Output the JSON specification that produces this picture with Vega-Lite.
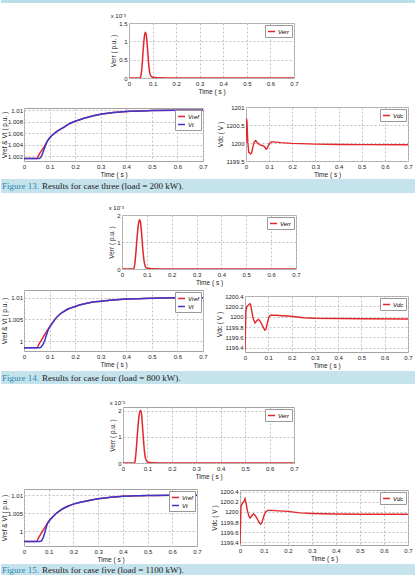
{
"$schema": "https://vega.github.io/schema/vega-lite/v6.json",
"background": "white",
"padding": 0,
"spacing": 0,
"resolve": {"scale": {"x": "independent", "y": "independent", "color": "independent"}, "legend": {"color": "independent"}},
"datasets": {
"e1": [{"t":0,"v":0,"s":"Verr"},{"t":0.046,"v":0,"s":"Verr"},{"t":0.05,"v":0.05,"s":"Verr"},{"t":0.055,"v":0.3,"s":"Verr"},{"t":0.06,"v":0.75,"s":"Verr"},{"t":0.065,"v":1.12,"s":"Verr"},{"t":0.069,"v":1.25,"s":"Verr"},{"t":0.073,"v":1.18,"s":"Verr"},{"t":0.078,"v":0.85,"s":"Verr"},{"t":0.083,"v":0.42,"s":"Verr"},{"t":0.088,"v":0.14,"s":"Verr"},{"t":0.093,"v":0.05,"s":"Verr"},{"t":0.1,"v":0.02,"s":"Verr"},{"t":0.12,"v":0.01,"s":"Verr"},{"t":0.2,"v":0,"s":"Verr"},{"t":0.7,"v":0,"s":"Verr"}],
"e2": [{"t":0,"v":0,"s":"Verr"},{"t":0.047,"v":0,"s":"Verr"},{"t":0.05,"v":0.1,"s":"Verr"},{"t":0.055,"v":0.5,"s":"Verr"},{"t":0.06,"v":1.1,"s":"Verr"},{"t":0.065,"v":1.58,"s":"Verr"},{"t":0.07,"v":1.82,"s":"Verr"},{"t":0.074,"v":1.75,"s":"Verr"},{"t":0.079,"v":1.3,"s":"Verr"},{"t":0.084,"v":0.7,"s":"Verr"},{"t":0.089,"v":0.28,"s":"Verr"},{"t":0.094,"v":0.09,"s":"Verr"},{"t":0.1,"v":0.04,"s":"Verr"},{"t":0.12,"v":0.01,"s":"Verr"},{"t":0.2,"v":0,"s":"Verr"},{"t":0.7,"v":0,"s":"Verr"}],
"e3": [{"t":0,"v":0,"s":"Verr"},{"t":0.047,"v":0,"s":"Verr"},{"t":0.05,"v":0.1,"s":"Verr"},{"t":0.055,"v":0.6,"s":"Verr"},{"t":0.06,"v":1.25,"s":"Verr"},{"t":0.065,"v":1.75,"s":"Verr"},{"t":0.07,"v":2.02,"s":"Verr"},{"t":0.074,"v":2.0,"s":"Verr"},{"t":0.079,"v":1.5,"s":"Verr"},{"t":0.084,"v":0.85,"s":"Verr"},{"t":0.089,"v":0.35,"s":"Verr"},{"t":0.094,"v":0.12,"s":"Verr"},{"t":0.1,"v":0.04,"s":"Verr"},{"t":0.12,"v":0.01,"s":"Verr"},{"t":0.2,"v":0,"s":"Verr"},{"t":0.7,"v":0,"s":"Verr"}],
"r1": [{"t":0,"v":1.00165,"s":"Vref"},{"t":0.05,"v":1.00165,"s":"Vref"},{"t":0.06,"v":1.0024,"s":"Vref"},{"t":0.07,"v":1.0031,"s":"Vref"},{"t":0.08,"v":1.0038,"s":"Vref"},{"t":0.088,"v":1.0044,"s":"Vref"},{"t":0.1,"v":1.0052,"s":"Vref"},{"t":0.125,"v":1.0062,"s":"Vref"},{"t":0.15,"v":1.0069,"s":"Vref"},{"t":0.175,"v":1.0076,"s":"Vref"},{"t":0.2,"v":1.0081,"s":"Vref"},{"t":0.25,"v":1.0088,"s":"Vref"},{"t":0.3,"v":1.0093,"s":"Vref"},{"t":0.35,"v":1.0096,"s":"Vref"},{"t":0.4,"v":1.0098,"s":"Vref"},{"t":0.5,"v":1.00995,"s":"Vref"},{"t":0.6,"v":1.01,"s":"Vref"},{"t":0.7,"v":1.01,"s":"Vref"},
{"t":0,"v":1.00165,"s":"Vt"},{"t":0.06,"v":1.00165,"s":"Vt"},{"t":0.065,"v":1.0018,"s":"Vt"},{"t":0.07,"v":1.0022,"s":"Vt"},{"t":0.075,"v":1.0028,"s":"Vt"},{"t":0.08,"v":1.0034,"s":"Vt"},{"t":0.085,"v":1.004,"s":"Vt"},{"t":0.09,"v":1.0045,"s":"Vt"},{"t":0.095,"v":1.0049,"s":"Vt"},{"t":0.1,"v":1.0052,"s":"Vt"},{"t":0.125,"v":1.0062,"s":"Vt"},{"t":0.15,"v":1.0069,"s":"Vt"},{"t":0.175,"v":1.0076,"s":"Vt"},{"t":0.2,"v":1.0081,"s":"Vt"},{"t":0.25,"v":1.0088,"s":"Vt"},{"t":0.3,"v":1.0093,"s":"Vt"},{"t":0.35,"v":1.0096,"s":"Vt"},{"t":0.4,"v":1.0098,"s":"Vt"},{"t":0.5,"v":1.00995,"s":"Vt"},{"t":0.6,"v":1.01,"s":"Vt"},{"t":0.7,"v":1.01,"s":"Vt"}],
"r2": [{"t":0,"v":0.99846,"s":"Vref"},{"t":0.05,"v":0.99846,"s":"Vref"},{"t":0.06,"v":0.99944,"s":"Vref"},{"t":0.07,"v":1.0004,"s":"Vref"},{"t":0.08,"v":1.0014,"s":"Vref"},{"t":0.09,"v":1.0024,"s":"Vref"},{"t":0.1,"v":1.0032,"s":"Vref"},{"t":0.107,"v":1.0038,"s":"Vref"},{"t":0.115,"v":1.0045,"s":"Vref"},{"t":0.125,"v":1.0053,"s":"Vref"},{"t":0.14,"v":1.0062,"s":"Vref"},{"t":0.155,"v":1.0068,"s":"Vref"},{"t":0.172,"v":1.0074,"s":"Vref"},{"t":0.2,"v":1.008,"s":"Vref"},{"t":0.237,"v":1.0086,"s":"Vref"},{"t":0.27,"v":1.009,"s":"Vref"},{"t":0.302,"v":1.0092,"s":"Vref"},{"t":0.35,"v":1.0095,"s":"Vref"},{"t":0.4,"v":1.0097,"s":"Vref"},{"t":0.45,"v":1.0098,"s":"Vref"},{"t":0.5,"v":1.0099,"s":"Vref"},{"t":0.6,"v":1.01,"s":"Vref"},{"t":0.7,"v":1.01,"s":"Vref"},
{"t":0,"v":0.99846,"s":"Vt"},{"t":0.062,"v":0.99846,"s":"Vt"},{"t":0.068,"v":0.9987,"s":"Vt"},{"t":0.073,"v":0.9991,"s":"Vt"},{"t":0.078,"v":0.9997,"s":"Vt"},{"t":0.083,"v":1.0005,"s":"Vt"},{"t":0.088,"v":1.0014,"s":"Vt"},{"t":0.093,"v":1.0023,"s":"Vt"},{"t":0.098,"v":1.003,"s":"Vt"},{"t":0.103,"v":1.0035,"s":"Vt"},{"t":0.107,"v":1.0038,"s":"Vt"},{"t":0.115,"v":1.0045,"s":"Vt"},{"t":0.125,"v":1.0053,"s":"Vt"},{"t":0.14,"v":1.0062,"s":"Vt"},{"t":0.155,"v":1.0068,"s":"Vt"},{"t":0.172,"v":1.0074,"s":"Vt"},{"t":0.2,"v":1.008,"s":"Vt"},{"t":0.237,"v":1.0086,"s":"Vt"},{"t":0.27,"v":1.009,"s":"Vt"},{"t":0.302,"v":1.0092,"s":"Vt"},{"t":0.35,"v":1.0095,"s":"Vt"},{"t":0.4,"v":1.0097,"s":"Vt"},{"t":0.45,"v":1.0098,"s":"Vt"},{"t":0.5,"v":1.0099,"s":"Vt"},{"t":0.6,"v":1.01,"s":"Vt"},{"t":0.7,"v":1.01,"s":"Vt"}],
"r3": [{"t":0,"v":0.99714,"s":"Vref"},{"t":0.05,"v":0.99714,"s":"Vref"},{"t":0.06,"v":0.99831,"s":"Vref"},{"t":0.07,"v":0.99946,"s":"Vref"},{"t":0.08,"v":1.0006,"s":"Vref"},{"t":0.09,"v":1.0017,"s":"Vref"},{"t":0.1,"v":1.0027,"s":"Vref"},{"t":0.114,"v":1.0038,"s":"Vref"},{"t":0.13,"v":1.0049,"s":"Vref"},{"t":0.15,"v":1.0059,"s":"Vref"},{"t":0.18,"v":1.007,"s":"Vref"},{"t":0.2,"v":1.0075,"s":"Vref"},{"t":0.248,"v":1.0083,"s":"Vref"},{"t":0.3,"v":1.009,"s":"Vref"},{"t":0.35,"v":1.0094,"s":"Vref"},{"t":0.4,"v":1.0097,"s":"Vref"},{"t":0.45,"v":1.0098,"s":"Vref"},{"t":0.5,"v":1.0099,"s":"Vref"},{"t":0.6,"v":1.01,"s":"Vref"},{"t":0.7,"v":1.01,"s":"Vref"},
{"t":0,"v":0.99714,"s":"Vt"},{"t":0.06,"v":0.99714,"s":"Vt"},{"t":0.066,"v":0.9972,"s":"Vt"},{"t":0.072,"v":0.99745,"s":"Vt"},{"t":0.077,"v":0.9981,"s":"Vt"},{"t":0.082,"v":0.9991,"s":"Vt"},{"t":0.087,"v":1.0003,"s":"Vt"},{"t":0.091,"v":1.0013,"s":"Vt"},{"t":0.095,"v":1.0021,"s":"Vt"},{"t":0.1,"v":1.0027,"s":"Vt"},{"t":0.114,"v":1.0038,"s":"Vt"},{"t":0.13,"v":1.0049,"s":"Vt"},{"t":0.15,"v":1.0059,"s":"Vt"},{"t":0.18,"v":1.007,"s":"Vt"},{"t":0.2,"v":1.0075,"s":"Vt"},{"t":0.248,"v":1.0083,"s":"Vt"},{"t":0.3,"v":1.009,"s":"Vt"},{"t":0.35,"v":1.0094,"s":"Vt"},{"t":0.4,"v":1.0097,"s":"Vt"},{"t":0.45,"v":1.0098,"s":"Vt"},{"t":0.5,"v":1.0099,"s":"Vt"},{"t":0.6,"v":1.01,"s":"Vt"},{"t":0.7,"v":1.01,"s":"Vt"}],
"d1": [{"t":0,"v":1200.0,"s":"Vdc"},{"t":0.002,"v":1200.68,"s":"Vdc"},{"t":0.004,"v":1200.6,"s":"Vdc"},{"t":0.008,"v":1200.0,"s":"Vdc"},{"t":0.012,"v":1199.74,"s":"Vdc"},{"t":0.02,"v":1199.7,"s":"Vdc"},{"t":0.024,"v":1199.72,"s":"Vdc"},{"t":0.03,"v":1199.9,"s":"Vdc"},{"t":0.036,"v":1200.03,"s":"Vdc"},{"t":0.042,"v":1200.07,"s":"Vdc"},{"t":0.05,"v":1200.0,"s":"Vdc"},{"t":0.06,"v":1199.95,"s":"Vdc"},{"t":0.07,"v":1199.93,"s":"Vdc"},{"t":0.08,"v":1199.9,"s":"Vdc"},{"t":0.087,"v":1199.83,"s":"Vdc"},{"t":0.092,"v":1199.86,"s":"Vdc"},{"t":0.1,"v":1199.98,"s":"Vdc"},{"t":0.11,"v":1200.03,"s":"Vdc"},{"t":0.12,"v":1200.03,"s":"Vdc"},{"t":0.15,"v":1200.01,"s":"Vdc"},{"t":0.2,"v":1199.99,"s":"Vdc"},{"t":0.3,"v":1199.97,"s":"Vdc"},{"t":0.4,"v":1199.96,"s":"Vdc"},{"t":0.5,"v":1199.955,"s":"Vdc"},{"t":0.7,"v":1199.95,"s":"Vdc"}],
"d2": [{"t":0,"v":1199.36,"s":"Vdc"},{"t":0.004,"v":1200.1,"s":"Vdc"},{"t":0.008,"v":1200.2,"s":"Vdc"},{"t":0.014,"v":1200.22,"s":"Vdc"},{"t":0.02,"v":1200.25,"s":"Vdc"},{"t":0.024,"v":1200.24,"s":"Vdc"},{"t":0.03,"v":1200.08,"s":"Vdc"},{"t":0.036,"v":1199.95,"s":"Vdc"},{"t":0.043,"v":1199.88,"s":"Vdc"},{"t":0.05,"v":1199.92,"s":"Vdc"},{"t":0.057,"v":1199.95,"s":"Vdc"},{"t":0.063,"v":1199.93,"s":"Vdc"},{"t":0.07,"v":1199.87,"s":"Vdc"},{"t":0.078,"v":1199.8,"s":"Vdc"},{"t":0.085,"v":1199.74,"s":"Vdc"},{"t":0.09,"v":1199.76,"s":"Vdc"},{"t":0.096,"v":1199.88,"s":"Vdc"},{"t":0.103,"v":1200.0,"s":"Vdc"},{"t":0.11,"v":1200.03,"s":"Vdc"},{"t":0.13,"v":1200.03,"s":"Vdc"},{"t":0.16,"v":1200.02,"s":"Vdc"},{"t":0.2,"v":1200.01,"s":"Vdc"},{"t":0.25,"v":1199.98,"s":"Vdc"},{"t":0.3,"v":1199.97,"s":"Vdc"},{"t":0.4,"v":1199.965,"s":"Vdc"},{"t":0.5,"v":1199.96,"s":"Vdc"},{"t":0.7,"v":1199.955,"s":"Vdc"}],
"d3": [{"t":0,"v":1199.38,"s":"Vdc"},{"t":0.004,"v":1200.1,"s":"Vdc"},{"t":0.01,"v":1200.17,"s":"Vdc"},{"t":0.016,"v":1200.2,"s":"Vdc"},{"t":0.021,"v":1200.26,"s":"Vdc"},{"t":0.026,"v":1200.15,"s":"Vdc"},{"t":0.031,"v":1200.02,"s":"Vdc"},{"t":0.037,"v":1199.92,"s":"Vdc"},{"t":0.042,"v":1199.88,"s":"Vdc"},{"t":0.05,"v":1199.93,"s":"Vdc"},{"t":0.056,"v":1199.96,"s":"Vdc"},{"t":0.062,"v":1199.94,"s":"Vdc"},{"t":0.07,"v":1199.88,"s":"Vdc"},{"t":0.08,"v":1199.79,"s":"Vdc"},{"t":0.086,"v":1199.76,"s":"Vdc"},{"t":0.092,"v":1199.8,"s":"Vdc"},{"t":0.1,"v":1199.93,"s":"Vdc"},{"t":0.107,"v":1200.0,"s":"Vdc"},{"t":0.115,"v":1200.03,"s":"Vdc"},{"t":0.13,"v":1200.03,"s":"Vdc"},{"t":0.16,"v":1200.02,"s":"Vdc"},{"t":0.2,"v":1200.01,"s":"Vdc"},{"t":0.25,"v":1199.98,"s":"Vdc"},{"t":0.3,"v":1199.97,"s":"Vdc"},{"t":0.4,"v":1199.96,"s":"Vdc"},{"t":0.5,"v":1199.955,"s":"Vdc"},{"t":0.7,"v":1199.955,"s":"Vdc"}],
"c1": [{"a":"Figure 13.","b":"Results for case three (load = 200 kW)."}],
"c2": [{"a":"Figure 14.","b":"Results for case four (load = 800 kW)."}],
"c3": [{"a":"Figure 15.","b":"Results for case five (load = 1100 kW)."}],
"blank": [{}]
},
"vconcat": [
{"width":415,"height":3,"view":{"fill":"#b9dde9","stroke":null},"data":{"name":"blank"},"mark":{"type":"point","opacity":0,"size":0}},

{"bounds":"flush","spacing":0,"resolve":{"scale":{"x":"independent","y":"independent","color":"independent"}},"hconcat":[
 {"width":128,"height":92,"view":{"stroke":null},"data":{"name":"blank"},"mark":{"type":"point","opacity":0,"size":0}},
 {"bounds":"flush","spacing":0,"resolve":{"scale":{"x":"independent","y":"independent","color":"independent"}},"vconcat":[
  {"width":1,"height":20,"view":{"stroke":null},"data":{"name":"blank"},"mark":{"type":"point","opacity":0,"size":0}},
  {"width":165,"height":55,"data":{"name":"e1"},
   "title":{"text":"x 10⁻³","anchor":"start","fontSize":6,"fontWeight":"normal","offset":1,"color":"#222"},
   "mark":{"type":"line","strokeWidth":1.5,"interpolate":"monotone","clip":true},
   "encoding":{
    "x":{"field":"t","type":"quantitative","scale":{"domain":[0,0.7],"nice":false},"axis":{"values":[0,0.1,0.2,0.3,0.4,0.5,0.6,0.7],"format":"~g","title":"Time ( s )"}},
    "y":{"field":"v","type":"quantitative","scale":{"domain":[0,1.5],"nice":false,"zero":false},"axis":{"values":[0,0.5,1,1.5],"format":"~g","title":"Verr ( p.u. )"}},
    "color":{"field":"s","type":"nominal","title":null,"scale":{"domain":["Verr"],"range":["#e3262b"]}}}}]}]},

{"bounds":"flush","spacing":0,"resolve":{"scale":{"x":"independent","y":"independent","color":"independent"}},"hconcat":[
 {"width":23,"height":84,"view":{"stroke":null},"data":{"name":"blank"},"mark":{"type":"point","opacity":0,"size":0}},
 {"bounds":"flush","spacing":0,"resolve":{"scale":{"x":"independent","y":"independent","color":"independent"}},"vconcat":[
  {"width":1,"height":12.5,"view":{"stroke":null},"data":{"name":"blank"},"mark":{"type":"point","opacity":0,"size":0}},
  {"width":179,"height":53,"data":{"name":"r1"},
   "mark":{"type":"line","strokeWidth":1.5,"interpolate":"monotone","clip":true},
   "encoding":{
    "x":{"field":"t","type":"quantitative","scale":{"domain":[0,0.7],"nice":false},"axis":{"values":[0,0.1,0.2,0.3,0.4,0.5,0.6,0.7],"format":"~g","title":"Time ( s )"}},
    "y":{"field":"v","type":"quantitative","scale":{"domain":[1.0012,1.0104],"nice":false,"zero":false},"axis":{"values":[1.002,1.004,1.006,1.008,1.01],"format":"~g","title":"Vref & Vt ( p.u. )","titlePadding":0,"labelPadding":1.5}},
    "color":{"field":"s","type":"nominal","title":null,"scale":{"domain":["Vref","Vt"],"range":["#e3262b","#3a37cf"]}}}}]},
 {"width":222,"height":1,"view":{"stroke":null},"data":{"name":"blank"},"mark":{"type":"point","opacity":0,"size":0}},
 {"bounds":"flush","spacing":0,"resolve":{"scale":{"x":"independent","y":"independent","color":"independent"}},"vconcat":[
  {"width":1,"height":12,"view":{"stroke":null},"data":{"name":"blank"},"mark":{"type":"point","opacity":0,"size":0}},
  {"width":162,"height":54,"data":{"name":"d1"},
   "mark":{"type":"line","strokeWidth":1.4,"clip":true},
   "encoding":{
    "x":{"field":"t","type":"quantitative","scale":{"domain":[0,0.7],"nice":false},"axis":{"values":[0,0.1,0.2,0.3,0.4,0.5,0.6,0.7],"format":"~g","title":"Time ( s )"}},
    "y":{"field":"v","type":"quantitative","scale":{"domain":[1199.5,1201],"nice":false,"zero":false},"axis":{"values":[1199.5,1200,1200.5,1201],"format":"~g","title":"Vdc ( V )"}},
    "color":{"field":"s","type":"nominal","title":null,"scale":{"domain":["Vdc"],"range":["#e3262b"]}}}}]}]},

{"width":415,"height":14,"view":{"fill":"#c4e3ed","stroke":null},"data":{"name":"c1"},
 "layer":[
  {"mark":{"type":"text","align":"left","baseline":"middle","font":"Liberation Serif","fontSize":9,"color":"#2f86b0","dx":1},"encoding":{"text":{"field":"a"},"x":{"datum":0,"type":"quantitative","scale":{"domain":[0,1],"nice":false},"axis":null}}},
  {"mark":{"type":"text","align":"left","baseline":"middle","font":"Liberation Serif","fontSize":9,"color":"#222","dx":41}, "encoding":{"text":{"field":"b"},"x":{"datum":0,"type":"quantitative","scale":{"domain":[0,1],"nice":false},"axis":null}}}]},

{"bounds":"flush","spacing":0,"resolve":{"scale":{"x":"independent","y":"independent","color":"independent"}},"hconcat":[
 {"width":121,"height":93,"view":{"stroke":null},"data":{"name":"blank"},"mark":{"type":"point","opacity":0,"size":0}},
 {"bounds":"flush","spacing":0,"resolve":{"scale":{"x":"independent","y":"independent","color":"independent"}},"vconcat":[
  {"width":1,"height":22,"view":{"stroke":null},"data":{"name":"blank"},"mark":{"type":"point","opacity":0,"size":0}},
  {"width":174,"height":54,"data":{"name":"e2"},
   "title":{"text":"x 10⁻³","anchor":"start","fontSize":6,"fontWeight":"normal","offset":1,"color":"#222"},
   "mark":{"type":"line","strokeWidth":1.5,"interpolate":"monotone","clip":true},
   "encoding":{
    "x":{"field":"t","type":"quantitative","scale":{"domain":[0,0.7],"nice":false},"axis":{"values":[0,0.1,0.2,0.3,0.4,0.5,0.6,0.7],"format":"~g","title":"Time ( s )"}},
    "y":{"field":"v","type":"quantitative","scale":{"domain":[0,2],"nice":false,"zero":false},"axis":{"values":[0,1,2],"format":"~g","title":"Verr ( p.u. )"}},
    "color":{"field":"s","type":"nominal","title":null,"scale":{"domain":["Verr"],"range":["#e3262b"]}}}}]}]},

{"bounds":"flush","spacing":0,"resolve":{"scale":{"x":"independent","y":"independent","color":"independent"}},"hconcat":[
 {"width":23,"height":85,"view":{"stroke":null},"data":{"name":"blank"},"mark":{"type":"point","opacity":0,"size":0}},
 {"bounds":"flush","spacing":0,"resolve":{"scale":{"x":"independent","y":"independent","color":"independent"}},"vconcat":[
  {"width":1,"height":4,"view":{"stroke":null},"data":{"name":"blank"},"mark":{"type":"point","opacity":0,"size":0}},
  {"width":179,"height":61,"data":{"name":"r2"},
   "mark":{"type":"line","strokeWidth":1.5,"interpolate":"monotone","clip":true},
   "encoding":{
    "x":{"field":"t","type":"quantitative","scale":{"domain":[0,0.7],"nice":false},"axis":{"values":[0,0.1,0.2,0.3,0.4,0.5,0.6,0.7],"format":"~g","title":"Time ( s )"}},
    "y":{"field":"v","type":"quantitative","scale":{"domain":[0.9977,1.0118],"nice":false,"zero":false},"axis":{"values":[1,1.005,1.01],"format":"~g","title":"Vref & Vt ( p.u. )","titlePadding":0,"labelPadding":1.5}},
    "color":{"field":"s","type":"nominal","title":null,"scale":{"domain":["Vref","Vt"],"range":["#e3262b","#3a37cf"]}}}}]},
 {"width":221,"height":1,"view":{"stroke":null},"data":{"name":"blank"},"mark":{"type":"point","opacity":0,"size":0}},
 {"bounds":"flush","spacing":0,"resolve":{"scale":{"x":"independent","y":"independent","color":"independent"}},"vconcat":[
  {"width":1,"height":10,"view":{"stroke":null},"data":{"name":"blank"},"mark":{"type":"point","opacity":0,"size":0}},
  {"width":163,"height":56,"data":{"name":"d2"},
   "mark":{"type":"line","strokeWidth":1.4,"clip":true},
   "encoding":{
    "x":{"field":"t","type":"quantitative","scale":{"domain":[0,0.7],"nice":false},"axis":{"values":[0,0.1,0.2,0.3,0.4,0.5,0.6,0.7],"format":"~g","title":"Time ( s )"}},
    "y":{"field":"v","type":"quantitative","scale":{"domain":[1199.32,1200.4],"nice":false,"zero":false},"axis":{"values":[1199.4,1199.6,1199.8,1200,1200.2,1200.4],"format":"~g","title":"Vdc ( V )"}},
    "color":{"field":"s","type":"nominal","title":null,"scale":{"domain":["Vdc"],"range":["#e3262b"]}}}}]}]},

{"width":415,"height":13,"view":{"fill":"#c4e3ed","stroke":null},"data":{"name":"c2"},
 "layer":[
  {"mark":{"type":"text","align":"left","baseline":"middle","font":"Liberation Serif","fontSize":9,"color":"#2f86b0","dx":1},"encoding":{"text":{"field":"a"},"x":{"datum":0,"type":"quantitative","scale":{"domain":[0,1],"nice":false},"axis":null}}},
  {"mark":{"type":"text","align":"left","baseline":"middle","font":"Liberation Serif","fontSize":9,"color":"#222","dx":41},"encoding":{"text":{"field":"b"},"x":{"datum":0,"type":"quantitative","scale":{"domain":[0,1],"nice":false},"axis":null}}}]},

{"bounds":"flush","spacing":0,"resolve":{"scale":{"x":"independent","y":"independent","color":"independent"}},"hconcat":[
 {"width":122,"height":96,"view":{"stroke":null},"data":{"name":"blank"},"mark":{"type":"point","opacity":0,"size":0}},
 {"bounds":"flush","spacing":0,"resolve":{"scale":{"x":"independent","y":"independent","color":"independent"}},"vconcat":[
  {"width":1,"height":23,"view":{"stroke":null},"data":{"name":"blank"},"mark":{"type":"point","opacity":0,"size":0}},
  {"width":171,"height":56,"data":{"name":"e3"},
   "title":{"text":"x 10⁻³","anchor":"start","fontSize":6,"fontWeight":"normal","offset":1,"color":"#222"},
   "mark":{"type":"line","strokeWidth":1.5,"interpolate":"monotone","clip":true},
   "encoding":{
    "x":{"field":"t","type":"quantitative","scale":{"domain":[0,0.7],"nice":false},"axis":{"values":[0,0.1,0.2,0.3,0.4,0.5,0.6,0.7],"format":"~g","title":"Time ( s )"}},
    "y":{"field":"v","type":"quantitative","scale":{"domain":[0,2.15],"nice":false,"zero":false},"axis":{"values":[0,1,2],"format":"~g","title":"Verr ( p.u. )"}},
    "color":{"field":"s","type":"nominal","title":null,"scale":{"domain":["Verr"],"range":["#e3262b"]}}}}]}]},

{"bounds":"flush","spacing":0,"resolve":{"scale":{"x":"independent","y":"independent","color":"independent"}},"hconcat":[
 {"width":23,"height":84,"view":{"stroke":null},"data":{"name":"blank"},"mark":{"type":"point","opacity":0,"size":0}},
 {"bounds":"flush","spacing":0,"resolve":{"scale":{"x":"independent","y":"independent","color":"independent"}},"vconcat":[
  {"width":1,"height":9,"view":{"stroke":null},"data":{"name":"blank"},"mark":{"type":"point","opacity":0,"size":0}},
  {"width":173,"height":57,"data":{"name":"r3"},
   "mark":{"type":"line","strokeWidth":1.5,"interpolate":"monotone","clip":true},
   "encoding":{
    "x":{"field":"t","type":"quantitative","scale":{"domain":[0,0.7],"nice":false},"axis":{"values":[0,0.1,0.2,0.3,0.4,0.5,0.6,0.7],"format":"~g","title":"Time ( s )"}},
    "y":{"field":"v","type":"quantitative","scale":{"domain":[0.9959,1.0117],"nice":false,"zero":false},"axis":{"values":[1,1.005,1.01],"format":"~g","title":"Vref & Vt ( p.u. )","titlePadding":0,"labelPadding":1.5}},
    "color":{"field":"s","type":"nominal","title":null,"scale":{"domain":["Vref","Vt"],"range":["#e3262b","#3a37cf"]}}}}]},
 {"width":216,"height":1,"view":{"stroke":null},"data":{"name":"blank"},"mark":{"type":"point","opacity":0,"size":0}},
 {"bounds":"flush","spacing":0,"resolve":{"scale":{"x":"independent","y":"independent","color":"independent"}},"vconcat":[
  {"width":1,"height":10,"view":{"stroke":null},"data":{"name":"blank"},"mark":{"type":"point","opacity":0,"size":0}},
  {"width":168,"height":55,"data":{"name":"d3"},
   "mark":{"type":"line","strokeWidth":1.4,"clip":true},
   "encoding":{
    "x":{"field":"t","type":"quantitative","scale":{"domain":[0,0.7],"nice":false},"axis":{"values":[0,0.1,0.2,0.3,0.4,0.5,0.6,0.7],"format":"~g","title":"Time ( s )"}},
    "y":{"field":"v","type":"quantitative","scale":{"domain":[1199.35,1200.43],"nice":false,"zero":false},"axis":{"values":[1199.4,1199.6,1199.8,1200,1200.2,1200.4],"format":"~g","title":"Vdc ( V )"}},
    "color":{"field":"s","type":"nominal","title":null,"scale":{"domain":["Vdc"],"range":["#e3262b"]}}}}]}]},

{"width":415,"height":11,"view":{"fill":"#c4e3ed","stroke":null},"data":{"name":"c3"},
 "layer":[
  {"mark":{"type":"text","align":"left","baseline":"middle","font":"Liberation Serif","fontSize":9,"color":"#2f86b0","dx":1},"encoding":{"text":{"field":"a"},"x":{"datum":0,"type":"quantitative","scale":{"domain":[0,1],"nice":false},"axis":null}}},
  {"mark":{"type":"text","align":"left","baseline":"middle","font":"Liberation Serif","fontSize":9,"color":"#222","dx":41},"encoding":{"text":{"field":"b"},"x":{"datum":0,"type":"quantitative","scale":{"domain":[0,1],"nice":false},"axis":null}}}]}
],
"config": {
 "font": "Liberation Sans",
 "concat": {"spacing": 0},
 "view": {"stroke": "#a3a3a3", "strokeWidth": 1},
 "axis": {"labelFont": "Liberation Sans", "labelFontSize": 6, "labelColor": "#222", "titleFont": "Liberation Sans", "titleFontSize": 6.5, "titleFontWeight": "normal", "titleColor": "#222", "grid": true, "gridDash": [2, 2], "gridColor": "#c2c2c2", "domain": false, "ticks": false, "labelPadding": 2, "titlePadding": 2, "labelFlush": false, "labelOverlap": false},
 "legend": {"orient": "top-right", "offset": 2, "padding": 2, "strokeColor": "#999", "fillColor": "#fff", "symbolType": "stroke", "symbolSize": 50, "symbolStrokeWidth": 1.5, "labelFont": "Liberation Sans", "labelFontSize": 6, "labelFontStyle": "italic", "rowPadding": 0, "labelOffset": 2, "labelLimit": 40}
}
}
